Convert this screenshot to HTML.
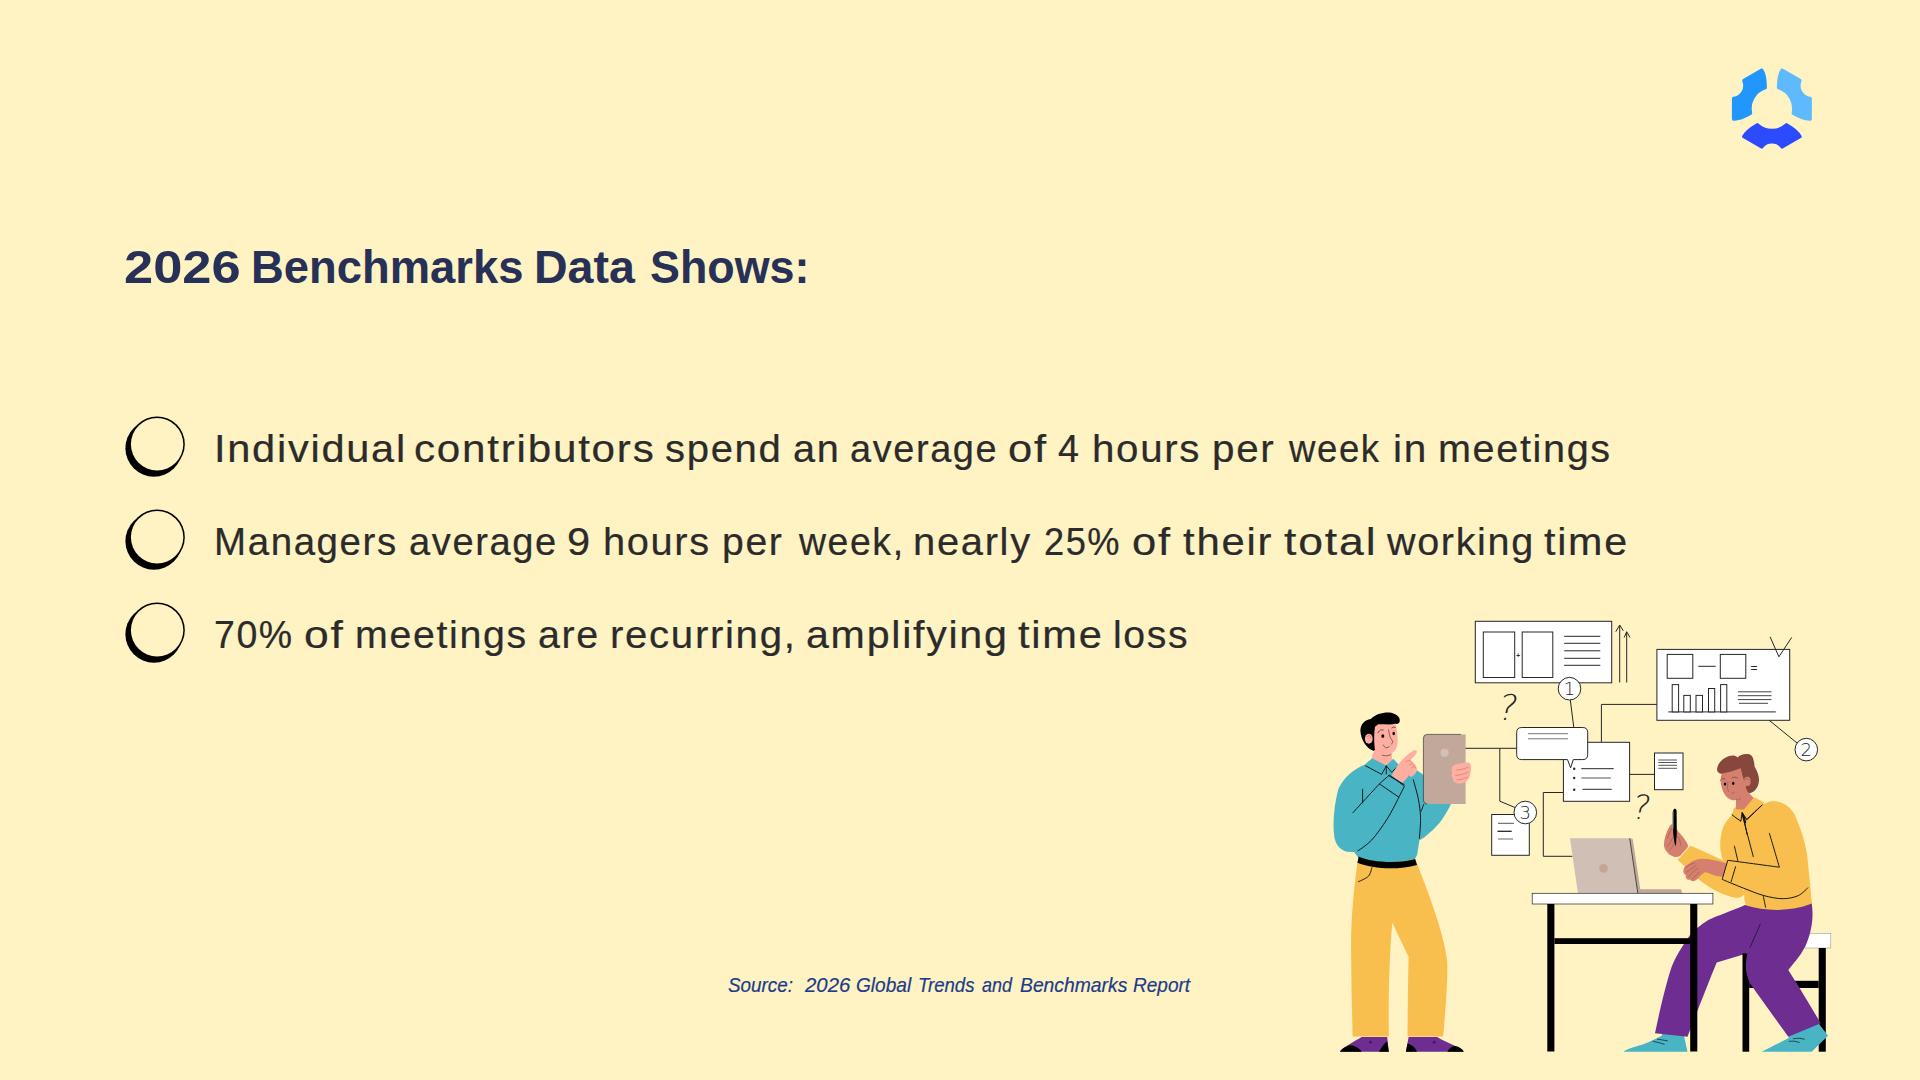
<!DOCTYPE html>
<html lang="en"><head><meta charset="utf-8"><title>2026 Benchmarks Data Shows</title>
<style>
html,body{margin:0;padding:0;}
body{width:1920px;height:1080px;overflow:hidden;background:#FFF2C3;position:relative;font-family:"Liberation Sans",sans-serif;}
.abs{position:absolute;left:0;white-space:pre;line-height:1;margin:0;}
.abs span{position:absolute;top:0;transform-origin:0 50%;display:block;}
h1{font-weight:700;color:#273056;font-size:46px;top:243.9px;}
.li{color:#2b2b2b;font-size:38px;letter-spacing:1.6px;-webkit-text-stroke:0.22px #2b2b2b;}
.src{color:#1b3b8b;font-style:italic;font-size:21px;top:973.5px;-webkit-text-stroke:0.2px #1b3b8b;}
svg{position:absolute;left:0;top:0;}
</style></head><body>
<h1 class="abs " id="h1"><span style="left:123.86px;transform:scaleX(1.1399)">2026 </span><span style="left:251.14px;transform:scaleX(0.9866)">Benchmarks </span><span style="left:534.36px;transform:scaleX(1.0121)">Data </span><span style="left:650.03px;transform:scaleX(0.9745)">Shows:</span></h1>
<div class="abs li" id="l1" style="top:429.6px"><span style="left:213.52px;transform:scaleX(1.0926)">Individual </span><span style="left:414.39px;transform:scaleX(1.1091)">contributors </span><span style="left:665.25px;transform:scaleX(1.0534)">spend </span><span style="left:792.76px;transform:scaleX(1.0434)">an </span><span style="left:849.5px;transform:scaleX(0.998)">average </span><span style="left:1008.35px;transform:scaleX(1.1456)">of </span><span style="left:1058.0px;transform:scaleX(0.9905)">4 </span><span style="left:1092.38px;transform:scaleX(1.0594)">hours </span><span style="left:1211.67px;transform:scaleX(1.0626)">per </span><span style="left:1288.96px;transform:scaleX(0.9633)">week </span><span style="left:1392.87px;transform:scaleX(1.065)">in </span><span style="left:1437.92px;transform:scaleX(1.0407)">meetings</span></div>
<div class="abs li" id="l2" style="top:522.8px"><span style="left:213.77px;transform:scaleX(1.0115)">Managers </span><span style="left:408.5px;transform:scaleX(1.0015)">average </span><span style="left:566.91px;transform:scaleX(1.0947)">9 </span><span style="left:602.91px;transform:scaleX(1.0462)">hours </span><span style="left:721.74px;transform:scaleX(1.0307)">per </span><span style="left:798.98px;transform:scaleX(0.9845)">week, </span><span style="left:913.4px;transform:scaleX(1.0502)">nearly </span><span style="left:1044.05px;transform:scaleX(0.9527)">25% </span><span style="left:1131.85px;transform:scaleX(1.1456)">of </span><span style="left:1182.5px;transform:scaleX(1.1008)">their </span><span style="left:1283.8px;transform:scaleX(1.1705)">total </span><span style="left:1387.34px;transform:scaleX(1.0401)">working </span><span style="left:1544.4px;transform:scaleX(1.0854)">time</span></div>
<div class="abs li" id="l3" style="top:615.6px"><span style="left:214.02px;transform:scaleX(0.9849)">70% </span><span style="left:304.33px;transform:scaleX(1.17)">of </span><span style="left:354.93px;transform:scaleX(1.0345)">meetings </span><span style="left:538.46px;transform:scaleX(1.0359)">are </span><span style="left:610.39px;transform:scaleX(1.0567)">recurring, </span><span style="left:806.42px;transform:scaleX(1.0831)">amplifying </span><span style="left:1018.0px;transform:scaleX(1.0934)">time </span><span style="left:1113.44px;transform:scaleX(1.0306)">loss</span></div>
<div class="abs src" id="src"><span style="left:727.9px;transform:scaleX(0.8974)">Source:  </span><span style="left:804.67px;transform:scaleX(0.9701)">2026 </span><span style="left:856.19px;transform:scaleX(0.9093)">Global </span><span style="left:918.02px;transform:scaleX(0.8847)">Trends </span><span style="left:981.7px;transform:scaleX(0.8554)">and </span><span style="left:1019.6px;transform:scaleX(0.9197)">Benchmarks </span><span style="left:1133.4px;transform:scaleX(0.9066)">Report</span></div>
<svg width="1920" height="1080" viewBox="0 0 1920 1080">
<g transform="translate(0,0.0)"><circle cx="153.9" cy="448.2" r="28.5" fill="#000"/><circle cx="157.1" cy="444.2" r="27.7" fill="#000"/><circle cx="157.1" cy="444.2" r="26.2" fill="#FFF2C3"/></g>
<g transform="translate(0,93.0)"><circle cx="153.9" cy="448.2" r="28.5" fill="#000"/><circle cx="157.1" cy="444.2" r="27.7" fill="#000"/><circle cx="157.1" cy="444.2" r="26.2" fill="#FFF2C3"/></g>
<g transform="translate(0,186.0)"><circle cx="153.9" cy="448.2" r="28.5" fill="#000"/><circle cx="157.1" cy="444.2" r="27.7" fill="#000"/><circle cx="157.1" cy="444.2" r="26.2" fill="#FFF2C3"/></g>
<g transform="translate(1771.9,108.6)" stroke-width="3.5" stroke-linejoin="round">
<path transform="rotate(0)" d="M -14.72,16.29 Q -25.2,22.35 -28.05,27.97 L -10.29,38.23 A 12.95 12.95 0 0 1 10.29,38.23 L 28.05,27.97 Q 25.2,22.35 14.72,16.29 A 21.95 21.95 0 0 1 -14.72,16.29 Z" fill="#2C4BFF" stroke="#2C4BFF"/>
<path transform="rotate(120)" d="M -14.72,16.29 Q -25.2,22.35 -28.05,27.97 L -10.29,38.23 A 12.95 12.95 0 0 1 10.29,38.23 L 28.05,27.97 Q 25.2,22.35 14.72,16.29 A 21.95 21.95 0 0 1 -14.72,16.29 Z" fill="#2196FF" stroke="#2196FF"/>
<path transform="rotate(240)" d="M -14.72,16.29 Q -25.2,22.35 -28.05,27.97 L -10.29,38.23 A 12.95 12.95 0 0 1 10.29,38.23 L 28.05,27.97 Q 25.2,22.35 14.72,16.29 A 21.95 21.95 0 0 1 -14.72,16.29 Z" fill="#5FB9FF" stroke="#5FB9FF"/>
</g>
<g id="diagram">
<polyline points="1465.0,748.3 1516.7,748.3" fill="none" stroke="#262626" stroke-width="1" />
<polyline points="1499.8,748.3 1499.8,801.2 1515.0,807.5" fill="none" stroke="#262626" stroke-width="1" />
<polyline points="1601.4,742.3 1601.4,704.4 1657.0,704.4" fill="none" stroke="#262626" stroke-width="1" />
<line x1="1629.6" y1="774.4" x2="1654.5" y2="774.4" stroke="#262626" stroke-width="1" />
<polyline points="1563.4,792.5 1543.3,792.5 1543.3,856.3 1572.5,856.3" fill="none" stroke="#262626" stroke-width="1" />
<line x1="1570.3" y1="700.0" x2="1573.8" y2="727.5" stroke="#262626" stroke-width="1" />
<line x1="1769.2" y1="720.3" x2="1797.5" y2="743.4" stroke="#262626" stroke-width="1" />
<rect x="1475.3" y="621.3" width="136.4" height="61.5" fill="#fff" stroke="#262626" stroke-width="1" />
<rect x="1483.3" y="632.0" width="31.4" height="45.5" fill="#fff" stroke="#262626" stroke-width="1" />
<rect x="1522.2" y="632.0" width="30.6" height="45.5" fill="#fff" stroke="#262626" stroke-width="1" />
<text x="1518.1" y="657.6" font-family="Liberation Sans, sans-serif" font-weight="700" font-size="6.5" text-anchor="middle" fill="#262626">+</text>
<line x1="1564.2" y1="636.3" x2="1600.3" y2="636.3" stroke="#262626" stroke-width="1" />
<line x1="1564.2" y1="643.3" x2="1600.3" y2="643.3" stroke="#262626" stroke-width="1" />
<line x1="1564.2" y1="650.8" x2="1600.3" y2="650.8" stroke="#262626" stroke-width="1" />
<line x1="1564.2" y1="658.3" x2="1600.3" y2="658.3" stroke="#262626" stroke-width="1" />
<line x1="1564.2" y1="665.3" x2="1600.3" y2="665.3" stroke="#262626" stroke-width="1" />
<line x1="1619.7" y1="626.0" x2="1619.7" y2="682.5" stroke="#262626" stroke-width="1" />
<polyline points="1615.8,631.7 1619.7,625.0 1623.3,630.8" fill="none" stroke="#262626" stroke-width="1" />
<line x1="1626.7" y1="632.5" x2="1626.7" y2="682.5" stroke="#262626" stroke-width="1" />
<polyline points="1624.2,637.5 1626.7,631.7 1630.0,637.5" fill="none" stroke="#262626" stroke-width="1" />
<rect x="1656.9" y="649.4" width="132.8" height="70.9" fill="#fff" stroke="#262626" stroke-width="1" />
<rect x="1667.2" y="654.4" width="25.6" height="23.9" fill="#fff" stroke="#262626" stroke-width="1" />
<rect x="1720.3" y="654.4" width="25.5" height="23.9" fill="#fff" stroke="#262626" stroke-width="1" />
<line x1="1698.3" y1="666.3" x2="1715.7" y2="666.3" stroke="#262626" stroke-width="1" />
<text x="1754" y="671.5" font-family="Liberation Sans, sans-serif" font-size="12" text-anchor="middle" fill="#262626">=</text>
<polyline points="1770.1,636.9 1778.9,656.8 1791.7,637.4" fill="none" stroke="#262626" stroke-width="1" />
<line x1="1668.2" y1="711.9" x2="1775.8" y2="711.9" stroke="#555" stroke-width="1.2" />
<rect x="1672.2" y="684.6" width="6.4" height="27.3" fill="#fff" stroke="#262626" stroke-width="1" />
<rect x="1683.8" y="695.4" width="6.5" height="16.5" fill="#fff" stroke="#262626" stroke-width="1" />
<rect x="1696.0" y="695.4" width="6.5" height="16.5" fill="#fff" stroke="#262626" stroke-width="1" />
<rect x="1708.5" y="688.5" width="6.2" height="23.4" fill="#fff" stroke="#262626" stroke-width="1" />
<rect x="1720.6" y="684.6" width="6.2" height="27.3" fill="#fff" stroke="#262626" stroke-width="1" />
<line x1="1737.9" y1="691.8" x2="1771.5" y2="691.8" stroke="#444" stroke-width="1" />
<line x1="1737.9" y1="695.7" x2="1771.5" y2="695.7" stroke="#444" stroke-width="1" />
<line x1="1737.9" y1="699.6" x2="1771.5" y2="699.6" stroke="#444" stroke-width="1" />
<line x1="1739.0" y1="703.3" x2="1768.0" y2="703.3" stroke="#444" stroke-width="1" />
<rect x="1563.4" y="742.3" width="66.2" height="59.0" fill="#fff" stroke="#262626" stroke-width="1" />
<circle cx="1574.2" cy="768.7" r="1.2" fill="#262626"/>
<circle cx="1574.2" cy="778" r="1.2" fill="#262626"/>
<circle cx="1574.2" cy="789.7" r="1.2" fill="#262626"/>
<line x1="1581.3" y1="768.7" x2="1613.7" y2="768.7" stroke="#262626" stroke-width="1" />
<line x1="1581.3" y1="778.0" x2="1610.8" y2="778.0" stroke="#555" stroke-width="1" />
<line x1="1582.5" y1="789.3" x2="1611.7" y2="789.3" stroke="#262626" stroke-width="1" />
<path d="M 1521.7,727.5 H 1582.7 Q 1587.7,727.5 1587.7,732.5 V 754.6 Q 1587.7,759.6 1582.7,759.6 H 1573.3 L 1570.6,767.8 L 1567.5,759.6 H 1521.7 Q 1516.7,759.6 1516.7,754.6 V 732.5 Q 1516.7,727.5 1521.7,727.5 Z" fill="#fff" stroke="#262626" stroke-width="1"/>
<line x1="1528.0" y1="733.7" x2="1568.0" y2="733.7" stroke="#777" stroke-width="1" />
<line x1="1528.0" y1="738.8" x2="1568.0" y2="738.8" stroke="#777" stroke-width="1" />
<rect x="1654.5" y="753.0" width="28.5" height="36.7" fill="#fff" stroke="#262626" stroke-width="1" />
<line x1="1658.3" y1="760.0" x2="1677.0" y2="760.0" stroke="#444" stroke-width="0.9" />
<line x1="1658.3" y1="762.5" x2="1677.0" y2="762.5" stroke="#444" stroke-width="0.9" />
<line x1="1658.3" y1="765.3" x2="1677.0" y2="765.3" stroke="#444" stroke-width="0.9" />
<line x1="1658.3" y1="768.3" x2="1677.0" y2="768.3" stroke="#444" stroke-width="0.9" />
<rect x="1491.7" y="814.5" width="37.6" height="40.8" fill="#fff" stroke="#262626" stroke-width="1" />
<line x1="1498.0" y1="823.3" x2="1514.0" y2="823.3" stroke="#555" stroke-width="1" />
<line x1="1497.5" y1="831.3" x2="1511.7" y2="831.3" stroke="#262626" stroke-width="1.3" />
<line x1="1498.0" y1="839.0" x2="1513.0" y2="839.0" stroke="#666" stroke-width="1" />
<circle cx="1569.5" cy="688.7" r="11.3" fill="#fff" stroke="#262626" stroke-width="1"/>
<text x="1569.5" y="695.2" font-family="DejaVu Sans Light, DejaVu Sans, sans-serif" font-weight="200" font-size="18" text-anchor="middle" fill="#262626" >1</text>
<circle cx="1806.3" cy="749.6" r="11.3" fill="#fff" stroke="#262626" stroke-width="1"/>
<text x="1806.3" y="756.1" font-family="DejaVu Sans Light, DejaVu Sans, sans-serif" font-weight="200" font-size="18" text-anchor="middle" fill="#262626" >2</text>
<circle cx="1525.3" cy="812.5" r="11.3" fill="#fff" stroke="#262626" stroke-width="1"/>
<text x="1525.3" y="819.0" font-family="DejaVu Sans Light, DejaVu Sans, sans-serif" font-weight="200" font-size="18" text-anchor="middle" fill="#262626" >3</text>
<text x="1508.5" y="720.0" font-family="DejaVu Sans Light, DejaVu Sans, sans-serif" font-weight="200" font-size="35.5" text-anchor="middle" fill="#262626" transform="translate(1508.5,707) skewX(-12) translate(-1508.5,-707)">?</text>
<text x="1641.7" y="818.7" font-family="DejaVu Sans Light, DejaVu Sans, sans-serif" font-weight="200" font-size="33.5" text-anchor="middle" fill="#262626" transform="translate(1641.7,806.5) skewX(-12) translate(-1641.7,-806.5)">?</text>
</g>
<g id="table">
<polygon points="1570,838.3 1629.7,838.3 1637.8,893 1577.9,893" fill="#CFBFB5"/>
<polygon points="1629.7,838.3 1632.7,838.9 1640.3,889.3 1681,889.3 1682.2,893.3 1637.8,893.3" fill="#C1A79A"/>
<line x1="1629.7" y1="838.3" x2="1637.8" y2="893.0" stroke="#262626" stroke-width="0.8" />
<circle cx="1603.5" cy="868.4" r="4.4" fill="#C4A598"/>
</g>
<g id="man1">
<path d="M 1357.7,860.4 C 1353.6,890.9 1350.5,921.4 1351.2,954.0 C 1351.2,982.5 1352.2,1013.1 1352.6,1036.5 L 1388.8,1036.5 C 1388.4,1002.9 1388.8,962.2 1392.3,922.5 C 1397.4,933.7 1403.5,945.9 1408.6,957.1 C 1408.0,982.5 1407.6,1013.1 1407.6,1036.5 L 1443.2,1036.5 C 1445.2,1013.1 1447.9,982.5 1447.3,962.2 C 1445.2,941.8 1436.1,911.3 1415.7,860.4 Z" fill="#F8BF4E" stroke="none" stroke-width="0" />
<path d="M 1371.9,867.5 C 1371.9,867.5 1370.7,873.9 1368.5,876.2 C 1366.2,878.6 1358.3,881.7 1358.3,881.7" fill="none" stroke="#111" stroke-width="0.9" stroke-linecap="round" stroke-linejoin="round"/>
<path d="M 1340.0,1051.8 C 1342.4,1047.7 1354.6,1041.6 1361.7,1037.1 L 1387.2,1037.1 L 1388.8,1051.8 Z" fill="#6E2D91" stroke="none" stroke-width="0" />
<path d="M 1340.0,1051.8 C 1341.4,1048.7 1346.5,1045.7 1350.5,1045.3 C 1355.6,1045.7 1359.7,1048.7 1361.7,1051.8 Z" fill="#000" stroke="none" stroke-width="0" />
<path d="M 1379.1,1051.8 C 1381.1,1047.7 1384.1,1043.6 1387.2,1041.2 L 1388.8,1051.8 Z" fill="#000" stroke="none" stroke-width="0" />
<path d="M 1405.9,1051.8 L 1408.6,1037.1 L 1437.1,1037.1 C 1444.2,1041.6 1458.5,1046.7 1463.6,1050.8 L 1463.6,1051.8 Z" fill="#6E2D91" stroke="none" stroke-width="0" />
<path d="M 1405.9,1051.8 L 1407.6,1043.6 C 1411.6,1044.6 1415.3,1047.7 1416.9,1051.8 Z" fill="#000" stroke="none" stroke-width="0" />
<path d="M 1447.3,1051.8 C 1449.3,1048.1 1452.4,1046.1 1455.4,1046.1 C 1459.5,1046.7 1462.5,1049.3 1463.6,1051.8 Z" fill="#000" stroke="none" stroke-width="0" />
<circle cx="1370.5" cy="1042.2" r="1" fill="none" stroke="#000" stroke-width="0.5"/>
<circle cx="1434.2" cy="1042.2" r="1" fill="none" stroke="#000" stroke-width="0.5"/>
<path d="M 1373.8,751.0 C 1366.7,748.8 1360.8,740.0 1360.4,730.8 C 1360.4,724.2 1365.0,719.6 1370.8,719.0 C 1375.0,714.2 1383.3,712.1 1389.2,712.5 C 1395.0,712.9 1400.4,716.7 1399.8,720.8 C 1399.6,724.2 1396.7,724.0 1395.0,723.8 L 1383.3,733.3 L 1375.0,750.0 Z" fill="#000" stroke="none" stroke-width="0" />
<path d="M 1378.3,724.2 C 1383.3,724.0 1390.0,725.0 1395.4,723.8 C 1396.7,728.3 1397.9,735.8 1397.5,743.3 C 1397.1,748.3 1394.2,752.1 1391.7,753.3 L 1392.1,760.0 L 1385.8,766.7 L 1371.8,758.8 L 1372.9,753.3 L 1375.0,750.0 C 1374.2,745.0 1373.6,735.0 1375.0,726.7 Z" fill="#FFAEA2" stroke="none" stroke-width="0" />
<ellipse cx="1368.8" cy="738.8" rx="3.9" ry="5" fill="#FFAEA2"/>
<path d="M 1367.1,736.7 C 1367.1,736.7 1368.9,735.2 1369.6,735.4 C 1370.3,735.6 1371.2,737.9 1371.2,737.9" fill="none" stroke="#DD7A6E" stroke-width="0.8" stroke-linecap="round" stroke-linejoin="round"/>
<ellipse cx="1382.8" cy="736.0" rx="1.5" ry="1.85" fill="#000"/>
<ellipse cx="1393.7" cy="733.5" rx="1.25" ry="1.7" fill="#000"/>
<path d="M 1377.9,732.9 C 1377.9,732.9 1379.3,730.7 1380.2,730.2 C 1381.1,729.7 1383.3,730.0 1383.3,730.0" fill="none" stroke="#111" stroke-width="0.6" stroke-linecap="round" stroke-linejoin="round"/>
<path d="M 1391.7,728.0 C 1391.7,728.0 1392.9,727.2 1393.5,727.1 C 1394.1,727.0 1395.4,727.5 1395.4,727.5" fill="none" stroke="#111" stroke-width="0.6" stroke-linecap="round" stroke-linejoin="round"/>
<path d="M 1388.5,729.6 C 1388.5,729.6 1389.3,734.7 1390.0,736.7 C 1390.7,738.7 1392.5,740.4 1392.7,741.7 C 1392.9,742.9 1391.2,744.3 1391.2,744.3" fill="none" stroke="#111" stroke-width="0.5" stroke-linecap="round" stroke-linejoin="round"/>
<path d="M 1383.3,745.0 C 1383.3,745.0 1384.7,747.6 1385.7,747.8 C 1386.6,748.1 1389.2,746.7 1389.2,746.7" fill="none" stroke="#111" stroke-width="0.5" stroke-linecap="round" stroke-linejoin="round"/>
<path d="M 1382.3,755.2 C 1382.3,755.2 1385.2,755.9 1386.7,755.8 C 1388.1,755.7 1390.8,754.6 1390.8,754.6" fill="none" stroke="#111" stroke-width="0.5" stroke-linecap="round" stroke-linejoin="round"/>
<path d="M 1372.1,758.3 L 1365.0,764.4 C 1353.0,770.0 1344.8,775.8 1338.3,788.9 C 1334.4,804.4 1332.2,822.2 1334.4,837.8 C 1336.1,845.6 1341.7,851.1 1347.2,851.7 L 1354.1,852.0 L 1358.3,857.8 C 1369.4,861.7 1391.7,864.4 1415.0,858.9 L 1417.2,854.4 L 1419.4,840.2 C 1425.0,837.8 1436.1,827.8 1441.7,820.0 C 1446.1,813.3 1449.4,807.8 1451.7,802.2 L 1451.7,782.2 L 1423.7,775.0 L 1417.2,770.6 L 1398.3,764.2 L 1393.3,758.8 L 1386.2,765.4 Z" fill="#48B4C4" stroke="none" stroke-width="0" />
<path d="M 1358.7,856.4 C 1369.4,861.7 1397.2,864.4 1415.2,858.9 L 1417.0,865.0 C 1397.2,870.6 1371.7,868.7 1357.4,862.8 Z" fill="#000" stroke="none" stroke-width="0" />
<path d="M 1365.6,765.8 C 1365.6,765.8 1381.7,774.4 1381.7,774.4 C 1381.7,774.4 1386.3,765.8 1386.3,765.8 C 1386.3,765.8 1391.7,772.4 1391.7,772.4 C 1391.7,772.4 1396.1,767.8 1396.1,767.8" fill="none" stroke="#111" stroke-width="0.95" stroke-linecap="round" stroke-linejoin="round"/>
<path d="M 1386.3,765.8 C 1386.3,765.8 1386.3,773.9 1386.3,773.9" fill="none" stroke="#111" stroke-width="0.95" stroke-linecap="round" stroke-linejoin="round"/>
<path d="M 1379.4,783.9 C 1379.4,783.9 1389.4,775.0 1389.4,775.0 C 1389.4,775.0 1404.4,786.1 1404.4,786.1 C 1404.4,786.1 1398.9,797.2 1398.9,797.2 C 1398.9,797.2 1379.4,783.9 1379.4,783.9 C 1379.4,783.9 1352.8,812.8 1352.8,812.8" fill="none" stroke="#111" stroke-width="0.95" stroke-linecap="round" stroke-linejoin="round"/>
<path d="M 1362.6,789.1 C 1362.6,789.1 1362.6,802.8 1362.6,802.8" fill="none" stroke="#111" stroke-width="0.95" stroke-linecap="round" stroke-linejoin="round"/>
<path d="M 1398.9,797.2 C 1398.9,797.2 1391.8,811.8 1387.2,818.9 C 1382.7,826.0 1376.6,834.7 1371.7,840.0 C 1366.8,845.3 1357.8,850.9 1357.8,850.9" fill="none" stroke="#111" stroke-width="0.95" stroke-linecap="round" stroke-linejoin="round"/>
<path d="M 1413.3,779.8 C 1413.3,779.8 1417.1,792.6 1418.3,798.9 C 1419.5,805.2 1420.4,811.2 1420.6,817.8 C 1420.7,824.4 1419.4,838.3 1419.4,838.3" fill="none" stroke="#111" stroke-width="0.95" stroke-linecap="round" stroke-linejoin="round"/>
<path d="M 1423.7,804.4 C 1423.7,804.4 1421.1,811.3 1421.1,811.3" fill="none" stroke="#111" stroke-width="0.95" stroke-linecap="round" stroke-linejoin="round"/>
<path d="M 1391.7,775.4 C 1394.6,770.2 1397.7,765.0 1401.0,761.2 C 1405.2,756.5 1410.2,752.3 1413.3,750.7 C 1415.8,749.6 1417.7,751.0 1416.5,753.2 C 1414.6,756.2 1412.1,758.3 1410.0,760.4 C 1413.3,761.7 1416.7,765.8 1417.1,769.2 C 1417.3,771.7 1415.0,774.6 1412.1,776.5 C 1410.4,777.3 1409.2,776.2 1408.8,775.0 L 1407.5,777.5 L 1402.3,782.7 Z" fill="#FFAEA2" stroke="none" stroke-width="0" />
<path d="M 1406.2,761.7 C 1406.2,761.7 1408.2,760.3 1409.2,760.4 C 1410.1,760.5 1412.1,762.1 1412.1,762.1" fill="none" stroke="#DD7A6E" stroke-width="0.8" stroke-linecap="round" stroke-linejoin="round"/>
<path d="M 1409.6,764.6 C 1409.6,764.6 1411.2,763.5 1412.1,763.8 C 1412.9,764.0 1414.6,765.8 1414.6,765.8" fill="none" stroke="#DD7A6E" stroke-width="0.8" stroke-linecap="round" stroke-linejoin="round"/>
<path d="M 1411.7,767.7 C 1411.7,767.7 1413.1,766.6 1413.8,766.7 C 1414.4,766.7 1415.8,767.9 1415.8,767.9" fill="none" stroke="#DD7A6E" stroke-width="0.8" stroke-linecap="round" stroke-linejoin="round"/>
<path d="M 1388.3,775.4 C 1388.3,775.4 1404.2,784.6 1404.2,784.6" fill="none" stroke="#111" stroke-width="0.95" stroke-linecap="round" stroke-linejoin="round"/>
<path d="M 1465.6,734.4 H 1427.2 Q 1423.4,734.4 1423.4,738.2 V 800.1 Q 1423.4,803.9 1427.2,803.9 H 1465.6 Z" fill="#C2A89B"/>
<path d="M 1461,734.4 H 1427.2 Q 1423.4,734.4 1423.4,738.2 V 800.1 Q 1423.4,803.9 1427.2,803.9" fill="none" stroke="#222" stroke-width="0.6"/>
<circle cx="1444.6" cy="752.8" r="4.1" fill="#D3C1B8"/>
<path d="M 1452.2,766.7 C 1453.9,764.4 1458.3,763.1 1468.3,762.4 C 1471.1,762.8 1471.4,766.7 1470.8,771.1 C 1470.3,776.7 1468.3,781.1 1465.0,782.2 C 1461.7,783.6 1458.3,783.9 1456.7,783.3 C 1453.9,782.2 1452.8,780.6 1452.8,778.3 C 1451.7,776.7 1451.4,774.4 1452.2,772.8 C 1451.4,770.6 1451.4,768.3 1452.2,766.7 Z" fill="#FFAEA2" stroke="none" stroke-width="0" />
<path d="M 1456.7,770.0 C 1456.7,770.0 1460.8,769.6 1462.8,769.1 C 1464.7,768.6 1468.3,767.2 1468.3,767.2" fill="none" stroke="#DD7A6E" stroke-width="0.8" stroke-linecap="round" stroke-linejoin="round"/>
<path d="M 1455.6,775.6 C 1455.6,775.6 1460.6,774.8 1462.8,774.2 C 1464.9,773.7 1468.3,772.2 1468.3,772.2" fill="none" stroke="#DD7A6E" stroke-width="0.8" stroke-linecap="round" stroke-linejoin="round"/>
<path d="M 1457.0,780.0 C 1457.0,780.0 1461.0,779.4 1462.8,778.9 C 1464.5,778.4 1467.4,777.2 1467.4,777.2" fill="none" stroke="#DD7A6E" stroke-width="0.8" stroke-linecap="round" stroke-linejoin="round"/>
</g>
<g id="man2">
<path d="M 1623.3,1051.7 C 1628.3,1048.3 1638.3,1045.8 1643.3,1044.2 C 1650.0,1041.7 1656.7,1038.3 1661.7,1035.8 L 1663.3,1030.0 L 1683.3,1030.0 L 1684.2,1036.7 L 1687.5,1051.7 Z" fill="#48B4C4" stroke="none" stroke-width="0" />
<path d="M 1745.0,905.0 C 1730.0,911.7 1716.7,915.8 1708.3,920.0 C 1700.0,925.0 1695.0,930.0 1690.0,935.0 C 1681.7,946.7 1675.0,958.3 1671.7,966.7 C 1665.0,986.7 1659.2,1013.3 1655.0,1033.3 L 1687.5,1036.7 C 1693.3,1021.7 1706.7,986.7 1716.7,962.5 L 1747.5,953.3 L 1766.7,930.0 L 1766.7,905.0 Z" fill="#6E2D91" stroke="none" stroke-width="0" />
<path d="M 1653.0,1041.3 C 1653.0,1041.3 1656.5,1042.0 1658.3,1042.5 C 1660.2,1043.0 1664.2,1044.2 1664.2,1044.2" fill="none" stroke="#111" stroke-width="0.7" stroke-linecap="round" stroke-linejoin="round"/>
<path d="M 1657.5,1039.2 C 1657.5,1039.2 1660.8,1039.7 1662.5,1040.0 C 1664.2,1040.3 1667.5,1040.8 1667.5,1040.8" fill="none" stroke="#111" stroke-width="0.7" stroke-linecap="round" stroke-linejoin="round"/>
<rect x="1532.2" y="893.3" width="180.7" height="10.7" fill="#fff" stroke="#262626" stroke-width="0.7" />
<rect x="1690.2" y="904.0" width="7.1" height="147.5" fill="#000" stroke="none" stroke-width="0" />
<rect x="1547.3" y="904.0" width="7.1" height="147.5" fill="#000" stroke="none" stroke-width="0" />
<rect x="1554.4" y="938.2" width="135.8" height="5.8" fill="#000" stroke="none" stroke-width="0" />
<rect x="1805.0" y="933.3" width="25.8" height="14.7" fill="#fff" stroke="#888" stroke-width="0.5" />
<rect x="1742.5" y="953.3" width="6.7" height="98.4" fill="#000" stroke="none" stroke-width="0" />
<rect x="1818.7" y="948.0" width="7.1" height="103.7" fill="#000" stroke="none" stroke-width="0" />
<rect x="1749.2" y="980.8" width="69.5" height="7.2" fill="#000" stroke="none" stroke-width="0" />
<path d="M 1761.7,1051.7 C 1770.0,1047.5 1780.0,1042.5 1788.3,1038.3 L 1791.7,1030.0 L 1816.7,1020.0 L 1820.0,1025.3 L 1828.0,1035.8 L 1811.7,1051.7 Z" fill="#48B4C4" stroke="none" stroke-width="0" />
<path d="M 1789.2,1041.3 C 1789.2,1041.3 1793.3,1041.1 1795.0,1041.3 C 1796.7,1041.5 1799.2,1042.5 1799.2,1042.5" fill="none" stroke="#111" stroke-width="0.7" stroke-linecap="round" stroke-linejoin="round"/>
<path d="M 1793.3,1038.7 C 1793.3,1038.7 1797.4,1038.2 1799.2,1038.3 C 1801.0,1038.4 1804.2,1039.2 1804.2,1039.2" fill="none" stroke="#111" stroke-width="0.7" stroke-linecap="round" stroke-linejoin="round"/>
<path d="M 1747.5,953.3 C 1755.0,938.3 1766.7,913.3 1766.7,905.0 L 1811.7,903.3 C 1814.2,918.3 1810.8,935.0 1805.0,946.7 C 1800.0,956.7 1793.3,963.3 1788.3,970.0 C 1800.0,988.3 1811.7,1008.3 1820.8,1023.3 L 1788.3,1036.7 C 1775.0,1018.3 1761.7,1000.0 1750.0,983.3 C 1745.0,973.3 1745.0,963.3 1747.5,953.3 Z" fill="#6E2D91" stroke="none" stroke-width="0" />
<path d="M 1760.3,924.2 C 1760.3,924.2 1750.0,947.5 1750.0,947.5" fill="none" stroke="#111" stroke-width="0.7" stroke-linecap="round" stroke-linejoin="round"/>
<path d="M 1690.6,845.6 L 1726.1,861.7 L 1745.0,892.2 C 1743.9,896.7 1739.4,898.3 1735.0,897.8 C 1723.9,895.6 1710.6,888.9 1699.4,880.0 L 1677.8,860.0 Z" fill="#F8BF4E" stroke="none" stroke-width="0" />
<path d="M 1663.9,844.4 C 1664.1,838.9 1666.1,832.2 1669.4,826.7 C 1671.1,823.9 1672.8,823.3 1673.9,825.0 L 1678.9,832.2 C 1682.2,835.6 1686.1,840.6 1687.8,844.4 C 1688.3,846.1 1687.8,847.2 1687.2,848.0 L 1680.0,856.1 C 1677.2,857.2 1675.6,856.9 1673.9,856.7 C 1670.6,855.6 1668.3,853.9 1667.2,852.2 C 1665.0,850.0 1663.9,847.2 1663.9,844.4 Z" fill="#D5806F" stroke="none" stroke-width="0" />
<path d="M 1671.7,828.3 C 1671.7,828.3 1670.2,831.7 1669.4,833.3 C 1668.7,835.0 1667.2,838.3 1667.2,838.3" fill="none" stroke="#8E4A3E" stroke-width="0.5" stroke-linecap="round" stroke-linejoin="round"/>
<path d="M 1673.3,836.7 C 1673.3,836.7 1671.0,841.1 1670.0,842.8 C 1669.0,844.4 1667.2,846.7 1667.2,846.7" fill="none" stroke="#8E4A3E" stroke-width="0.5" stroke-linecap="round" stroke-linejoin="round"/>
<path d="M 1674.4,843.3 C 1674.4,843.3 1672.5,846.6 1671.7,847.8 C 1670.8,849.0 1669.4,850.6 1669.4,850.6" fill="none" stroke="#8E4A3E" stroke-width="0.5" stroke-linecap="round" stroke-linejoin="round"/>
<path d="M 1677.8,836.7 C 1677.8,836.7 1679.5,839.7 1680.0,841.1 C 1680.5,842.5 1680.6,845.0 1680.6,845.0" fill="none" stroke="#8E4A3E" stroke-width="0.5" stroke-linecap="round" stroke-linejoin="round"/>
<path d="M 1673.1,811.1 C 1673.4,809.4 1674.3,808.4 1675.0,808.4 C 1675.8,808.7 1676.4,810.0 1676.6,811.1 L 1676.8,833.3 L 1675.9,846.4 L 1674.4,842.2 L 1673.2,833.3 Z" fill="#000" stroke="none" stroke-width="0" />
<path d="M 1672.2,811.7 L 1673.4,811.1 L 1673.4,828.3 L 1672.2,828.7 Z" fill="#999" stroke="none" stroke-width="0" />
<path d="M 1734.1,807.8 L 1731.7,815.6 C 1724.4,821.7 1720.1,831.1 1720.2,846.7 C 1720.6,853.3 1721.7,857.8 1724.4,862.2 L 1743.9,888.9 L 1744.4,900.0 L 1746.1,905.6 C 1755.0,908.3 1766.1,910.0 1777.2,910.0 C 1793.9,909.4 1805.0,906.7 1811.9,903.3 C 1810.6,888.9 1809.4,877.8 1807.2,855.6 C 1805.0,842.2 1801.7,830.0 1793.9,813.3 C 1788.3,804.4 1779.4,800.0 1769.4,801.7 L 1762.2,804.4 L 1752.8,797.8 L 1741.7,806.7 Z" fill="#F8BF4E" stroke="none" stroke-width="0" />
<path d="M 1727.8,860.0 L 1779.4,867.2 L 1808.3,886.7 C 1803.9,895.6 1793.9,898.9 1782.8,898.9 C 1766.1,896.7 1743.9,888.9 1722.2,879.4 Z" fill="#F8BF4E" stroke="none" stroke-width="0" />
<path d="M 1683.3,871.1 C 1683.7,868.9 1684.1,867.8 1685.0,866.7 C 1688.3,863.9 1691.7,861.7 1693.9,860.6 C 1698.3,858.9 1701.7,858.7 1705.0,858.9 C 1710.6,858.9 1717.2,860.6 1726.7,863.3 L 1723.0,876.9 C 1719.4,876.7 1717.2,876.1 1715.0,875.6 C 1710.6,873.9 1707.2,872.2 1705.0,872.2 C 1702.8,873.3 1701.1,875.0 1699.4,876.7 C 1697.8,878.9 1696.1,880.6 1693.9,881.1 C 1691.7,881.3 1690.6,880.6 1690.3,879.4 C 1688.9,880.2 1687.2,880.0 1687.0,878.7 C 1685.6,877.8 1685.2,876.7 1686.1,875.6 C 1684.1,874.4 1683.3,872.8 1683.3,871.1 Z" fill="#D5806F" stroke="none" stroke-width="0" />
<path d="M 1684.8,867.8 C 1684.8,867.8 1687.8,865.8 1689.4,865.0 C 1691.1,864.2 1694.4,862.8 1694.4,862.8" fill="none" stroke="#8E4A3E" stroke-width="0.5" stroke-linecap="round" stroke-linejoin="round"/>
<path d="M 1686.7,872.2 C 1686.7,872.2 1689.5,870.0 1691.1,868.9 C 1692.7,867.8 1696.1,865.6 1696.1,865.6" fill="none" stroke="#8E4A3E" stroke-width="0.5" stroke-linecap="round" stroke-linejoin="round"/>
<path d="M 1688.3,876.7 C 1688.3,876.7 1691.2,873.6 1692.8,872.2 C 1694.4,870.8 1697.8,868.3 1697.8,868.3" fill="none" stroke="#8E4A3E" stroke-width="0.5" stroke-linecap="round" stroke-linejoin="round"/>
<path d="M 1692.2,879.4 C 1692.2,879.4 1694.4,876.8 1695.6,875.6 C 1696.8,874.4 1699.4,872.2 1699.4,872.2" fill="none" stroke="#8E4A3E" stroke-width="0.5" stroke-linecap="round" stroke-linejoin="round"/>
<path d="M 1732.2,814.4 C 1732.2,814.4 1740.6,821.1 1740.6,821.1 C 1740.6,821.1 1741.7,812.2 1741.7,812.2 C 1741.7,812.2 1746.7,820.0 1746.7,820.0 C 1746.7,820.0 1762.2,805.0 1762.2,805.0" fill="none" stroke="#111" stroke-width="0.95" stroke-linecap="round" stroke-linejoin="round"/>
<path d="M 1741.7,812.8 C 1741.7,812.8 1753.3,856.7 1753.3,856.7" fill="none" stroke="#111" stroke-width="0.95" stroke-linecap="round" stroke-linejoin="round"/>
<path d="M 1742.8,813.9 C 1742.8,813.9 1745.0,822.2 1745.0,822.2" fill="none" stroke="#111" stroke-width="1.4" stroke-linecap="round" stroke-linejoin="round"/>
<path d="M 1769.4,833.3 C 1769.4,833.3 1779.4,867.2 1779.4,867.2 C 1779.4,867.2 1727.8,860.3 1727.8,860.3 C 1727.8,860.3 1722.2,879.4 1722.2,879.4 C 1722.2,879.4 1736.9,885.6 1743.9,888.3 C 1750.8,891.0 1757.4,893.8 1763.9,895.6 C 1770.4,897.3 1777.0,898.7 1782.8,898.7 C 1788.5,898.7 1794.2,897.4 1798.3,895.6 C 1802.5,893.7 1807.8,887.8 1807.8,887.8" fill="none" stroke="#111" stroke-width="0.95" stroke-linecap="round" stroke-linejoin="round"/>
<path d="M 1735.6,866.7 C 1735.6,866.7 1731.1,881.7 1731.1,881.7" fill="none" stroke="#111" stroke-width="0.95" stroke-linecap="round" stroke-linejoin="round"/>
<path d="M 1734.4,846.1 C 1734.4,846.1 1737.8,860.6 1737.8,860.6" fill="none" stroke="#111" stroke-width="0.95" stroke-linecap="round" stroke-linejoin="round"/>
<path d="M 1763.3,896.1 C 1763.3,896.1 1765.6,907.2 1765.6,907.2" fill="none" stroke="#111" stroke-width="0.95" stroke-linecap="round" stroke-linejoin="round"/>
<path d="M 1721.7,772.9 L 1720.4,780.0 C 1721.2,788.3 1723.8,795.0 1728.3,798.3 C 1730.8,800.2 1734.2,800.7 1736.0,800.0 L 1735.8,809.6 L 1744.2,809.6 L 1753.8,798.3 L 1749.2,792.9 L 1745.0,785.0 L 1741.7,767.5 Z" fill="#D5806F" stroke="none" stroke-width="0" />
<path d="M 1732.1,815.0 L 1734.2,808.2 L 1742.1,811.7 L 1754.2,797.3 L 1764.2,802.5 L 1762.1,805.0 L 1746.7,819.2 L 1742.1,812.7 L 1740.8,821.2 Z" fill="#F8BF4E" stroke="none" stroke-width="0" />
<path d="M 1732.1,815.0 C 1732.1,815.0 1740.8,821.2 1740.8,821.2 C 1740.8,821.2 1742.1,812.5 1742.1,812.5 C 1742.1,812.5 1746.7,819.2 1746.7,819.2 C 1746.7,819.2 1762.1,805.0 1762.1,805.0" fill="none" stroke="#111" stroke-width="0.95" stroke-linecap="round" stroke-linejoin="round"/>
<path d="M 1742.1,812.5 C 1742.1,812.5 1743.3,816.3 1744.2,820.0 C 1745.0,823.7 1747.1,834.6 1747.1,834.6" fill="none" stroke="#111" stroke-width="0.95" stroke-linecap="round" stroke-linejoin="round"/>
<path d="M 1742.9,814.2 C 1742.9,814.2 1745.4,822.5 1745.4,822.5" fill="none" stroke="#111" stroke-width="1.6" stroke-linecap="round" stroke-linejoin="round"/>
<path d="M 1717.1,770.0 C 1716.7,764.2 1723.3,755.8 1733.3,755.4 C 1735.4,755.4 1736.7,756.5 1737.5,757.5 C 1740.0,754.6 1745.0,753.3 1749.2,754.3 C 1753.3,755.4 1754.2,761.7 1754.6,766.7 C 1756.7,770.0 1759.2,775.8 1759.0,780.0 C 1758.8,786.7 1755.0,792.5 1749.2,793.3 C 1747.1,791.7 1745.8,788.3 1745.4,785.0 C 1743.8,780.0 1741.7,773.3 1740.8,768.2 C 1735.0,770.0 1727.5,772.9 1720.8,773.8 C 1718.8,773.3 1717.1,771.7 1717.1,770.0 Z" fill="#87473C" stroke="none" stroke-width="0" />
<ellipse cx="1747.3" cy="781.4" rx="3.4" ry="4.6" fill="#D5806F"/>
<path d="M 1744.6,780.0 C 1744.6,780.0 1746.3,778.3 1747.1,778.3 C 1747.8,778.4 1749.2,780.4 1749.2,780.4" fill="none" stroke="#8E4A3E" stroke-width="0.5" stroke-linecap="round" stroke-linejoin="round"/>
<ellipse cx="1725.0" cy="784.0" rx="1.2" ry="1.5" fill="#000"/>
<ellipse cx="1733.2" cy="783.3" rx="1.2" ry="1.65" fill="#000"/>
<path d="M 1720.4,780.4 C 1720.4,780.4 1721.6,779.1 1722.3,778.8 C 1723.1,778.6 1725.0,778.8 1725.0,778.8" fill="none" stroke="#87473C" stroke-width="0.8" stroke-linecap="round" stroke-linejoin="round"/>
<path d="M 1732.1,777.9 C 1732.1,777.9 1734.1,776.9 1735.0,777.0 C 1735.9,777.1 1737.7,778.3 1737.7,778.3" fill="none" stroke="#87473C" stroke-width="0.8" stroke-linecap="round" stroke-linejoin="round"/>
<path d="M 1727.9,781.7 C 1727.9,781.7 1727.4,786.7 1727.5,788.3 C 1727.6,790.0 1728.8,791.7 1728.8,791.7" fill="none" stroke="#8E4A3E" stroke-width="0.5" stroke-linecap="round" stroke-linejoin="round"/>
<path d="M 1732.1,792.5 C 1732.1,792.5 1732.6,793.8 1732.9,793.8 C 1733.3,793.7 1734.2,792.1 1734.2,792.1" fill="none" stroke="#8E4A3E" stroke-width="0.5" stroke-linecap="round" stroke-linejoin="round"/>
<path d="M 1736.2,799.2 C 1736.2,799.2 1737.6,800.1 1738.3,800.0 C 1739.1,799.9 1740.8,798.3 1740.8,798.3" fill="none" stroke="#8E4A3E" stroke-width="0.5" stroke-linecap="round" stroke-linejoin="round"/>
</g>
</svg>
</body></html>
